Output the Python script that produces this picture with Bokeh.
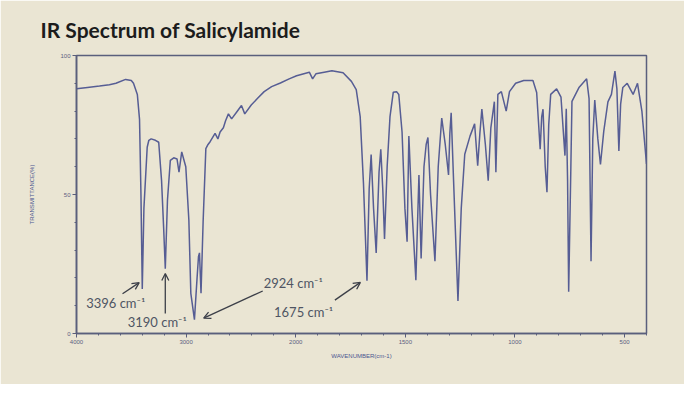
from bokeh.plotting import figure
from bokeh.models import Range1d, FixedTicker, Arrow, OpenHead, Label
from bokeh.embed import file_html
from bokeh.resources import INLINE

# ---- data -----------------------------------------------------------------
wavenumber = [4000, 3900, 3790, 3700, 3640, 3552, 3500, 3480, 3445, 3425, 3412, 3400,
              3385, 3355, 3340, 3319, 3280, 3250, 3224, 3205, 3190, 3170, 3144, 3113,
              3083, 3065, 3040, 3003, 2975, 2957, 2924, 2900, 2887, 2878, 2864, 2845,
              2820, 2800, 2781, 2736, 2710, 2690, 2660, 2640, 2614, 2585, 2540, 2495,
              2465, 2406, 2350, 2288, 2220, 2140, 2060, 1996, 1938, 1923, 1908, 1870,
              1835, 1784, 1746, 1724, 1706, 1691, 1675, 1665, 1656, 1645, 1633, 1620,
              1612, 1603, 1595, 1583, 1570, 1555, 1540, 1530, 1515, 1502, 1492, 1484,
              1470, 1452, 1438, 1428, 1415, 1405, 1397, 1385, 1365, 1350, 1334, 1318,
              1303, 1297, 1291, 1280, 1260, 1245, 1229, 1205, 1184, 1170, 1160, 1151,
              1135, 1122, 1110, 1094, 1087, 1078, 1062, 1040, 1025, 997, 960, 918,
              901, 885, 878, 872, 862, 854, 846, 837, 810, 790, 772, 766,
              760, 755, 745, 740, 707, 673, 662, 653, 645, 636, 622, 610,
              595, 576, 560, 544, 535, 526, 518, 508, 488, 461, 441, 421,
              410, 400]
transmittance = [88.0, 88.5, 89.0, 89.5, 90.0, 91.4, 91.0, 90.0, 86.0, 77.0, 50.0, 16.0,
                 45.0, 67.0, 69.5, 70.0, 69.5, 68.8, 55.0, 38.0, 23.3, 48.0, 62.3, 63.2,
                 62.8, 58.0, 65.3, 60.0, 40.8, 14.4, 5.0, 20.0, 27.7, 29.0, 14.5, 40.0,
                 66.5, 68.0, 69.0, 72.0, 70.0, 72.5, 74.0, 76.5, 79.0, 77.2, 79.6, 82.0,
                 79.0, 82.2, 84.5, 87.0, 88.8, 90.1, 91.6, 92.7, 94.0, 91.6, 93.4, 94.0,
                 94.5, 93.8, 90.7, 87.7, 78.0, 54.0, 19.0, 52.0, 64.4, 45.0, 29.0, 58.0,
                 66.3, 52.0, 34.0, 60.0, 78.0, 86.8, 87.0, 86.0, 72.5, 45.0, 33.0, 71.0,
                 45.0, 19.2, 57.0, 27.0, 60.0, 68.0, 70.5, 50.0, 26.0, 60.0, 77.5, 68.0,
                 57.0, 72.0, 79.4, 55.0, 11.7, 45.0, 64.5, 71.0, 75.4, 60.4, 72.0, 80.7,
                 68.0, 55.0, 74.0, 83.4, 58.0, 86.0, 87.0, 80.0, 87.0, 90.0, 91.0, 91.0,
                 86.7, 66.3, 78.0, 80.7, 60.0, 50.8, 75.0, 86.0, 88.0, 85.0, 64.0, 80.8,
                 55.0, 15.0, 60.0, 83.5, 88.6, 91.6, 84.5, 26.0, 70.0, 84.0, 70.0, 60.8,
                 72.7, 83.3, 86.0, 94.4, 88.0, 65.7, 82.5, 88.5, 90.0, 86.0, 90.0, 80.0,
                 70.0, 61.0]

x_tick_values = [4000, 3000, 2000, 1500, 1000, 500]
x_tick_labels = ["4000", "3000", "2000", "1500", "1000", "500"]
y_tick_values = [0, 50, 100]
y_minor_values = [0, 10, 20, 30, 40, 50, 60, 70, 80, 90, 100]
peak_labels = ["3396 cm\u207b\u00b9", "3190 cm\u207b\u00b9", "2924 cm\u207b\u00b9", "1675 cm\u207b\u00b9"]

# ---- IR axis: scale doubles below 2000 cm-1 --------------------------------
def to_axis(w):
    return (4000 - w) / 1000.0 if w >= 2000 else 2.0 + (2000 - w) / 500.0

xs = [to_axis(w) for w in wavenumber]

BG = "#eae5d3"
AXC = "#5a5f7c"
TICKC = "#5a6080"

p = figure(width=684, height=384, x_range=Range1d(0, 5.2), y_range=Range1d(0, 100),
           output_backend="svg", toolbar_location=None,
           min_border_left=76, min_border_right=38, min_border_top=55, min_border_bottom=51,
           background_fill_color=BG, border_fill_color=BG)

p.title.text = "IR Spectrum of Salicylamide"
p.title.text_font = "Lato"
p.title.text_font_style = "bold"
p.title.text_font_size = "21px"
p.title.text_color = "#1c1c1c"
p.title.align = "left"
p.title.offset = -36
p.title.standoff = 27

p.xgrid.visible = False
p.ygrid.visible = False
p.outline_line_color = AXC
p.outline_line_width = 1.5

xt = [to_axis(w) for w in x_tick_values]
p.xaxis.ticker = FixedTicker(ticks=xt, minor_ticks=[i * 0.2 for i in range(27)])
p.xaxis.major_label_overrides = {t: lab for t, lab in zip(xt, x_tick_labels)}
p.yaxis.ticker = FixedTicker(ticks=y_tick_values, minor_ticks=y_minor_values)

for ax in (p.xaxis[0], p.yaxis[0]):
    ax.axis_line_color = AXC
    ax.axis_line_width = 1.6
    ax.major_tick_line_color = AXC
    ax.minor_tick_line_color = AXC
    ax.major_tick_out = 4
    ax.major_tick_in = 0
    ax.minor_tick_out = 2
    ax.minor_tick_in = 0
    ax.major_label_standoff = 2
    ax.major_label_text_font_size = "6px"
    ax.major_label_text_color = TICKC
    ax.axis_label_text_font_size = "6px"
    ax.axis_label_text_font_style = "normal"
    ax.axis_label_text_color = "#4a5590"

p.xaxis.axis_label = "WAVENUMBER(cm-1)"
p.xaxis.axis_label_standoff = 6
p.yaxis.axis_label = "TRANSMITTANCE(%)"
p.yaxis.axis_label_standoff = 22

p.line(xs, transmittance, line_color="#565d94", line_width=1.5)

AC = "#3c3f48"
TC = "#4f5563"
arrows = [((0.42, 14.3), (0.572, 18.3)),
          ((0.81, 7.2), (0.81, 21.6)),
          ((1.699, 15.3), (1.16, 5.5)),
          ((2.357, 12.0), (2.59, 18.4))]
label_pos = [(0.088, 10.9), (0.467, 4.3), (1.708, 18.2), (1.802, 7.9)]

for (s, e) in arrows:
    p.add_layout(Arrow(end=OpenHead(size=7, line_color=AC, line_width=1.3),
                       x_start=s[0], y_start=s[1], x_end=e[0], y_end=e[1],
                       line_color=AC, line_width=1.3))
for (pos, txt) in zip(label_pos, peak_labels):
    p.add_layout(Label(x=pos[0], y=pos[1], text=txt, text_font="Lato",
                       text_font_size="13px", text_color=TC,
                       text_baseline="middle", text_align="left"))

open("out.html", "w").write(file_html(p, INLINE))
